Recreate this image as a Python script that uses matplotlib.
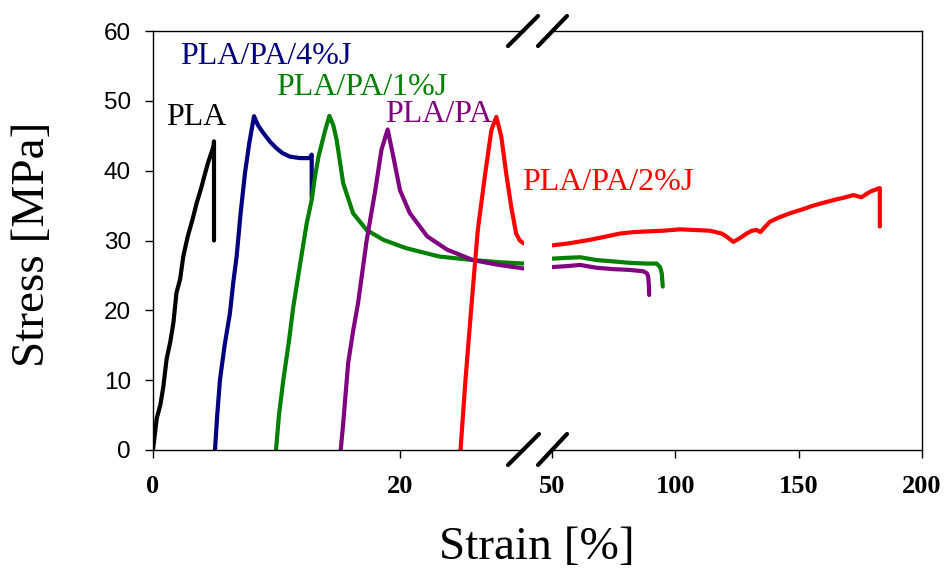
import matplotlib
matplotlib.use("Agg")
import matplotlib.pyplot as plt
from matplotlib.lines import Line2D

# Stress-strain data (strain in %, stress in MPa)
pla_x = [0, 0.3, 0.6, 0.84, 1.1, 1.4, 1.65, 1.9, 2.2, 2.45, 2.8, 3.2, 3.54, 3.9, 4.2, 4.45, 4.75, 4.9, 4.94, 4.94]
pla_y = [0, 4.5, 6.5, 9.1, 13, 15.5, 18.2, 22.5, 24.5, 27.7, 30.5, 33, 35.4, 37.5, 39.5, 41.1, 42.7, 43.5, 44.2, 30.0]

j4_x = [5.02, 5.2, 5.42, 5.8, 6.23, 6.5, 6.77, 7.1, 7.45, 7.8, 8.18, 8.5, 8.93, 9.5, 10.0, 10.5, 11.1, 11.9, 12.7, 12.85, 12.85]
j4_y = [0, 5, 10, 15, 19.6, 24, 27.7, 34, 39.7, 44, 47.8, 46.5, 45.4, 44.1, 43.2, 42.5, 42.0, 41.8, 41.8, 42.3, 36.1]

j1_x = [9.96, 10.2, 10.55, 11.0, 11.36, 11.9, 12.45, 12.85, 13.1, 13.4, 13.9, 14.28, 14.6, 14.87, 15.4, 16.2, 17.3, 18.65, 20.5, 23.2, 25.9, 28.0, 30.0]
j1_y = [0, 5, 10, 15.5, 20.5, 26.5, 32.5, 35.8, 39, 42, 45.5, 47.85, 46.5, 44.4, 38.2, 33.9, 31.5, 30.1, 28.9, 27.7, 27.2, 26.9, 26.7]
j1_x2 = [50, 55, 61.4, 68.1, 75, 81.6, 88, 92.4, 93.8, 94.5, 94.9]
j1_y2 = [27.4, 27.5, 27.6, 27.2, 27.0, 26.8, 26.7, 26.7, 26.2, 25.3, 23.4]

pa_x = [15.2, 15.4, 15.8, 16.2, 16.6, 17.3, 18.0, 18.5, 19.0, 19.46, 20.0, 20.8, 22.2, 23.8, 25.9, 28.0, 30.0]
pa_y = [0, 3.8, 12.4, 17, 21, 30, 37.2, 43, 45.9, 42, 37.2, 33.9, 30.6, 28.7, 27.2, 26.5, 26.0]
pa_x2 = [50, 55, 61.4, 68, 74.8, 81, 87, 88.5, 89, 89.3, 89.4]
pa_y2 = [26.2, 26.3, 26.5, 26.1, 25.9, 25.8, 25.6, 25.3, 24.8, 23.5, 22.2]

j2_x = [24.9, 25.3, 25.8, 26.3, 26.9, 27.4, 27.8, 28.2, 28.6, 29.0, 29.4, 29.7, 30.0]
j2_y = [0, 10, 21, 31.5, 39.6, 45.8, 47.7, 44.9, 39.6, 34.9, 31.0, 30.0, 29.6]
j2_x2 = [50, 57, 65.4, 71, 77.6, 83, 88.4, 95, 101.9, 108, 114, 118.8, 121, 123.5, 126, 128.9, 131, 133,
         134.5, 136, 138.4, 142, 146.5, 151, 155.9, 160, 165.4, 168, 172.1, 175.5, 179, 182.7, 182.9, 182.9]
j2_y2 = [29.3, 29.6, 30.1, 30.5, 31.0, 31.2, 31.3, 31.4, 31.6, 31.5, 31.4, 31.0, 30.5, 29.8, 30.3, 31.0, 31.4, 31.5,
         31.2, 31.8, 32.7, 33.3, 33.9, 34.4, 35.0, 35.4, 35.9, 36.1, 36.5, 36.2, 37.0, 37.5, 37.5, 32.0]

left_ticks = [0, 20]
right_ticks = [50, 100, 150, 200]
y_ticks = [0, 10, 20, 30, 40, 50, 60]

serif = "Liberation Serif"
sans = "Liberation Sans"
lw = 3.0
line_kw = dict(lw=lw, solid_capstyle="round", solid_joinstyle="round")

W, H = 945, 571
fig = plt.figure(figsize=(W / 100, H / 100), dpi=100)

# two panels side by side -> broken x axis
ax1 = fig.add_axes([153 / W, 121 / H, 370.5 / W, 419 / H])
ax2 = fig.add_axes([552 / W, 121 / H, 370 / W, 419 / H])
ax2.patch.set_visible(False)   # so labels from the left panel are not hidden

ax1.plot(pla_x, pla_y, color="black", **line_kw)
ax1.plot(j4_x, j4_y, color="#000080", **line_kw)
ax1.plot(j1_x, j1_y, color="#008000", **line_kw)
ax1.plot(pa_x, pa_y, color="#800080", **line_kw)
ax1.plot(j2_x, j2_y, color="#FF0000", **line_kw)

ax2.plot(j1_x2, j1_y2, color="#008000", **line_kw)
ax2.plot(pa_x2, pa_y2, color="#800080", **line_kw)
ax2.plot(j2_x2, j2_y2, color="#FF0000", **line_kw)

ax1.set_xlim(0, 30)
ax2.set_xlim(50, 200)
for ax in (ax1, ax2):
    ax.set_ylim(0, 60)
    for s in ax.spines.values():
        s.set_linewidth(1.0)

ax1.spines["right"].set_visible(False)
ax2.spines["left"].set_visible(False)

ax1.set_yticks(y_ticks)
ax1.set_yticklabels([str(v) for v in y_ticks], fontfamily=sans, fontsize=17.5)
ax1.tick_params(axis="y", direction="out", length=6, width=1, pad=10)
ax2.set_yticks([])

ax1.set_xticks(left_ticks)
ax1.set_xticklabels([str(v) for v in left_ticks], fontfamily=serif, fontweight="bold", fontsize=19)
ax2.set_xticks(right_ticks)
ax2.set_xticklabels([str(v) for v in right_ticks], fontfamily=serif, fontweight="bold", fontsize=19)
for ax in (ax1, ax2):
    ax.tick_params(axis="x", direction="out", length=6, width=1, pad=12)

# curve labels
ax1.text(1.05, 47.6, "PLA", color="black", fontfamily=serif, fontsize=23, va="center")
ax1.text(2.2, 56.3, "PLA/PA/4%J", color="#000080", fontfamily=serif, fontsize=23, va="center")
ax1.text(10.0, 51.9, "PLA/PA/1%J", color="#008000", fontfamily=serif, fontsize=23, va="center")
ax1.text(18.8, 48.0, "PLA/PA", color="#800080", fontfamily=serif, fontsize=23, va="center")
ax1.text(29.9, 38.3, "PLA/PA/2%J", color="#FF0000", fontfamily=serif, fontsize=23, va="center", zorder=10)

# break marks on top and bottom axis lines
def brk(x0, y0, x1, y1):
    fig.add_artist(Line2D([x0 / W, x1 / W], [1 - y0 / H, 1 - y1 / H], color="black",
                          lw=3, solid_capstyle="round"))

brk(508, 46, 538, 16)
brk(538, 46, 567, 16)
brk(508, 465, 539, 434)
brk(538, 465, 567, 434)

fig.text(537 / W, 1 - 548 / H, "Strain [%]", fontfamily=serif, fontsize=34, ha="center", va="center")
fig.text(33 / W, 1 - 244 / H, "Stress [MPa]", fontfamily=serif, fontsize=34, ha="center", va="center",
         rotation=90)

plt.savefig("out.png", dpi=100)
